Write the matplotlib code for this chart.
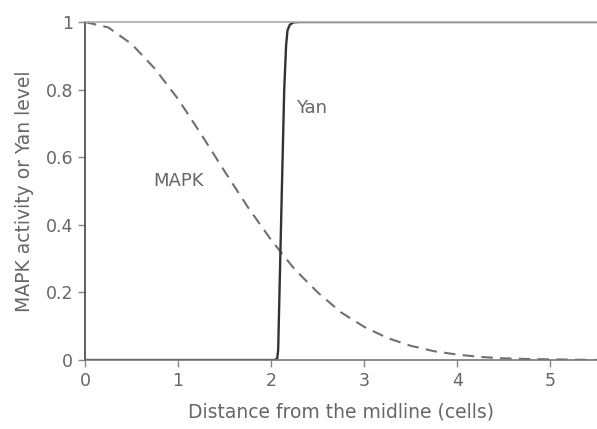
import matplotlib
matplotlib.use("Agg")
import matplotlib.pyplot as plt

# MAPK activity (dashed)
mapk_x = [0.0, 0.25, 0.5, 0.75, 1.0, 1.25, 1.5, 1.75, 2.0, 2.25, 2.5, 2.75,
          3.0, 3.25, 3.5, 3.75, 4.0, 4.25, 4.5, 4.75, 5.0, 5.25, 5.5]
mapk_y = [1.0, 0.984, 0.935, 0.862, 0.772, 0.667, 0.558, 0.452, 0.355, 0.269,
          0.2, 0.141, 0.098, 0.065, 0.042, 0.026, 0.016, 0.009, 0.005, 0.003,
          0.002, 0.001, 0.0]

# Yan level (solid)
yan_x = [0.0, 2.04, 2.065, 2.075, 2.085, 2.11, 2.14, 2.16, 2.175, 2.2, 2.24, 2.3, 5.5]
yan_y = [0.0, 0.0, 0.005, 0.03, 0.15, 0.45, 0.8, 0.93, 0.975, 0.992, 0.999, 1.0, 1.0]

x_ticks = [0, 1, 2, 3, 4, 5]
y_ticks = [0, 0.2, 0.4, 0.6, 0.8, 1]
y_ticklabels = ["0", "0.2", "0.4", "0.6", "0.8", "1"]

plt.rcParams['font.family'] = ['DejaVu Sans']
text_color = '#666666'

fig = plt.figure(figsize=(5.97, 4.29), dpi=100)
ax = fig.add_axes([0.1424, 0.1608, 0.8576, 0.7879])

ax.plot(mapk_x, mapk_y, color='#707070', lw=1.5, dashes=(5.5, 3.5))
ax.plot(yan_x, yan_y, color='#333333', lw=1.7, solid_joinstyle='round')

ax.set_xlim(0, 5.5)
ax.set_ylim(0, 1)
ax.set_xticks(x_ticks)
ax.set_yticks(y_ticks)
ax.set_yticklabels(y_ticklabels)
ax.tick_params(axis='both', direction='out', length=5, width=1, colors='#888888',
               labelcolor=text_color, labelsize=12.5)

ax.spines['right'].set_visible(False)
ax.spines['top'].set_color('#aaaaaa')
ax.spines['left'].set_color('#444444')
ax.spines['bottom'].set_color('#777777')
for s in ['top', 'left', 'bottom']:
    ax.spines[s].set_linewidth(1.2)

ax.set_xlabel('Distance from the midline (cells)', color=text_color, fontsize=13.5, labelpad=9)
ax.set_ylabel('MAPK activity or Yan level', color=text_color, fontsize=13.5, labelpad=8)

ax.text(2.27, 0.745, 'Yan', color=text_color, fontsize=13, va='center', ha='left')
ax.text(0.73, 0.53, 'MAPK', color=text_color, fontsize=13, va='center', ha='left')

fig.savefig('out.png', dpi=100)
